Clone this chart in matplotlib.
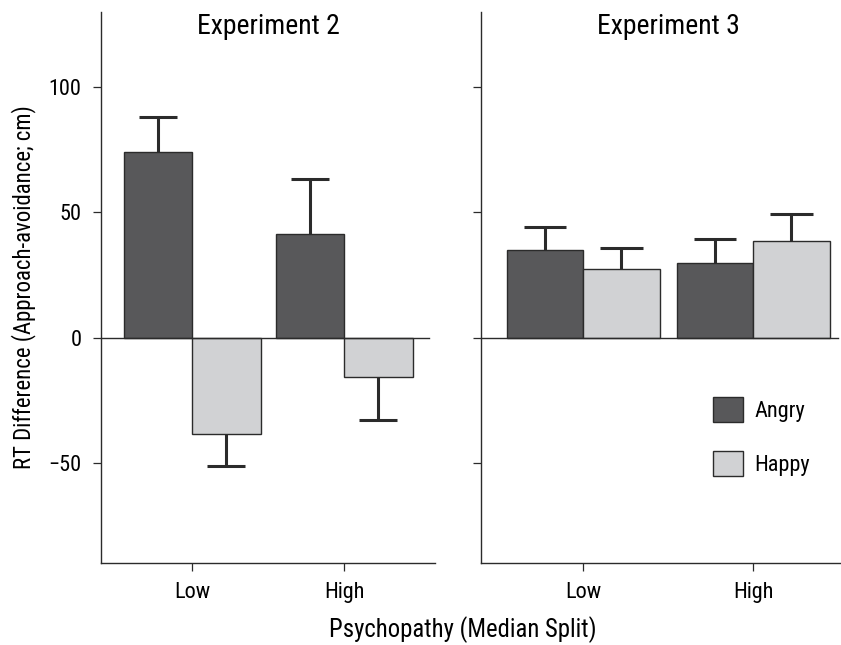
import matplotlib
matplotlib.use("Agg")
import matplotlib.pyplot as plt
from matplotlib import font_manager
from matplotlib.patches import Patch
import numpy as np

# ---- data ----
groups = ["Low", "High"]
exp2_angry = [74.0, 41.3]
exp2_angry_err = [13.9, 21.9]
exp2_happy = [-38.4, -15.7]
exp2_happy_err = [12.7, 17.4]
exp3_angry = [35.1, 29.7]
exp3_angry_err = [8.9, 9.7]
exp3_happy = [27.3, 38.6]
exp3_happy_err = [8.5, 10.9]
titles = ["Experiment 2", "Experiment 3"]
yticks = [-50, 0, 50, 100]

# ---- font ----
avail = {f.name for f in font_manager.fontManager.ttflist}
fam = "DejaVu Sans"
for c in ["Liberation Sans Narrow", "Roboto Condensed", "Open Sans Condensed", "Arial Narrow"]:
    if c in avail:
        fam = c
        break
plt.rcParams["font.family"] = [fam, "DejaVu Sans"]

C_ANGRY = "#58585a"
C_HAPPY = "#d1d2d4"
C_LINE = "#2b2b2b"

fig = plt.figure(figsize=(8.41, 6.45), dpi=100)
W, H = 841, 645
ax1 = fig.add_axes([101 / W, (H - 563) / H, 334.4 / W, 551 / H])
ax2 = fig.add_axes([481 / W, (H - 563) / H, 374 / W, 551 / H])

x = np.arange(len(groups))
bw = 0.45
cap = 0.125


def draw(ax, angry, aerr, happy, herr, title, zero_end):
    ax.bar(x - bw / 2, angry, bw, color=C_ANGRY, edgecolor=C_LINE, linewidth=1.0, zorder=2)
    ax.bar(x + bw / 2, happy, bw, color=C_HAPPY, edgecolor=C_LINE, linewidth=1.0, zorder=2)
    # one-sided error bars, pointing away from zero, cap only at the far end
    for xs, vals, errs in [(x - bw / 2, angry, aerr), (x + bw / 2, happy, herr)]:
        for xi, v, e in zip(xs, vals, errs):
            end = v + e if v > 0 else v - e
            ax.vlines(xi, v, end, color=C_LINE, lw=2.2, zorder=1)
            ax.hlines(end, xi - cap, xi + cap, color=C_LINE, lw=2.2, zorder=1)
    ax.plot([-0.6, zero_end], [0, 0], color=C_LINE, lw=1.0, zorder=3, clip_on=False)
    ax.set_xlim(-0.6, 1.6)
    ax.set_ylim(-90, 130)
    ax.set_xticks(x)
    ax.set_xticklabels(groups)
    ax.set_yticks(yticks)
    for s in ["top", "right"]:
        ax.spines[s].set_visible(False)
    for s in ["left", "bottom"]:
        ax.spines[s].set_color(C_LINE)
        ax.spines[s].set_linewidth(1.0)
    ax.tick_params(axis="both", direction="out", length=6, width=0.9, color=C_LINE,
                   labelsize=16, pad=8)
    ax.text(0.5, 0.998, title, transform=ax.transAxes, ha="center", va="top", fontsize=20)


draw(ax1, exp2_angry, exp2_angry_err, exp2_happy, exp2_happy_err, titles[0], 1.56)
draw(ax2, exp3_angry, exp3_angry_err, exp3_happy, exp3_happy_err, titles[1], 1.5)
ax1.set_yticklabels([str(t).replace("-", "\u2212") for t in yticks])
ax2.set_yticklabels([])
ax1.set_ylabel("RT Difference (Approach-avoidance; cm)", fontsize=16.4, labelpad=9)

fig.text(463 / W, 1 - 630 / H, "Psychopathy (Median Split)", ha="center", va="center", fontsize=17.8)

handles = [Patch(facecolor=C_ANGRY, edgecolor=C_LINE, linewidth=1.0, label="Angry"),
           Patch(facecolor=C_HAPPY, edgecolor=C_LINE, linewidth=1.0, label="Happy")]
fig.legend(handles=handles, loc="upper left", bbox_to_anchor=(713 / W, 1 - 397 / H),
           frameon=False, fontsize=16, handlelength=1.36, handleheight=1.36,
           labelspacing=1.3, handletextpad=0.5, borderpad=0, borderaxespad=0)

fig.savefig("out.png", dpi=100)
